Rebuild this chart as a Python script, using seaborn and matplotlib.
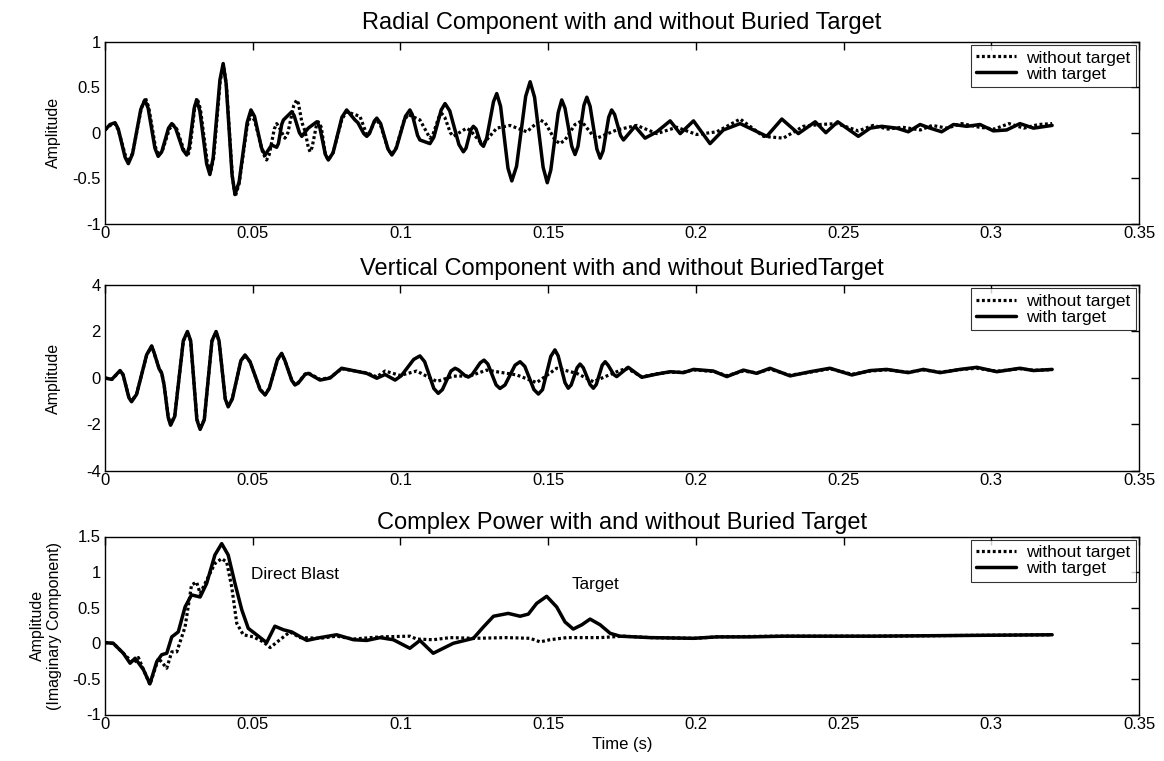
import numpy as np
import pandas as pd
import matplotlib
matplotlib.use("Agg")
import matplotlib.pyplot as plt
from matplotlib.ticker import FormatStrFormatter
import seaborn as sns

# ---------------- data ----------------
# Radial component
rad_t_with = [0, 0.0017, 0.0034, 0.0045, 0.0068, 0.0079, 0.0093, 0.0121, 0.0135, 0.0146,
              0.0169, 0.0180, 0.0192, 0.0215, 0.0226, 0.0239, 0.0264, 0.0277, 0.0285, 0.0302,
              0.0310, 0.0321, 0.0344, 0.0355, 0.0366, 0.0389, 0.0400, 0.0410, 0.0430, 0.0440,
              0.0454, 0.0481, 0.0494, 0.0506, 0.0530, 0.0542, 0.0564, 0.0581, 0.0587, 0.0598,
              0.0604, 0.0632, 0.0640, 0.0658, 0.0666, 0.0688, 0.0717, 0.0727, 0.0746, 0.0756,
              0.0772, 0.0802, 0.0818, 0.0846, 0.0856, 0.0876, 0.0886, 0.0895, 0.0912, 0.0920,
              0.0933, 0.0958, 0.0971, 0.0986, 0.1017, 0.1032, 0.1040, 0.1058, 0.1066, 0.1100,
              0.1113, 0.1138, 0.1151, 0.1167, 0.1198, 0.1213, 0.1222, 0.1238, 0.1247, 0.1256,
              0.1272, 0.1281, 0.1292, 0.1315, 0.1326, 0.1339, 0.1364, 0.1377, 0.1393, 0.1424,
              0.1439, 0.1454, 0.1483, 0.1497, 0.1509, 0.1534, 0.1546, 0.1557, 0.1580, 0.1591,
              0.1601, 0.1621, 0.1631, 0.1642, 0.1665, 0.1676, 0.1686, 0.1705, 0.1715, 0.1725,
              0.1745, 0.1755, 0.1794, 0.1828, 0.1868, 0.1913, 0.1947, 0.1992, 0.2048, 0.2093,
              0.2150, 0.2195, 0.2240, 0.2291, 0.2347, 0.2404, 0.2440, 0.2480, 0.2550, 0.2590,
              0.2629, 0.2680, 0.2719, 0.2759, 0.2793, 0.2832, 0.2872, 0.2917, 0.2962, 0.3007,
              0.3052, 0.3097, 0.3143, 0.3206]
rad_v_with = [0.03, 0.09, 0.11, 0.04, -0.27, -0.34, -0.235, 0.255, 0.36, 0.27,
              -0.17, -0.26, -0.21, 0.05, 0.10, 0.05, -0.19, -0.245, -0.155, 0.27,
              0.36, 0.24, -0.34, -0.46, -0.28, 0.58, 0.76, 0.54, -0.46, -0.68,
              -0.54, 0.11, 0.25, 0.18, -0.17, -0.245, -0.135, -0.16, -0.12, 0.09,
              0.14, 0.23, 0.19, 0.00, -0.04, 0.05, 0.12, 0.06, -0.24, -0.30,
              -0.22, 0.17, 0.25, 0.14, 0.11, -0.01, -0.04, -0.01, 0.13, 0.16,
              0.10, -0.18, -0.245, -0.17, 0.18, 0.25, 0.20, -0.03, -0.08, -0.12,
              -0.05, 0.25, 0.32, 0.24, -0.13, -0.21, -0.17, 0.03, 0.07, 0.04,
              -0.12, -0.15, -0.06, 0.34, 0.43, 0.29, -0.39, -0.53, -0.37, 0.40,
              0.56, 0.39, -0.38, -0.55, -0.41, 0.22, 0.36, 0.27, -0.15, -0.24,
              -0.15, 0.30, 0.39, 0.29, -0.18, -0.28, -0.20, 0.17, 0.25, 0.20,
              -0.03, -0.08, 0.07, -0.06, 0.01, 0.13, -0.01, 0.13, -0.12, 0.03,
              0.10, 0.03, -0.04, 0.15, -0.01, 0.12, 0.00, 0.12, -0.04, 0.05,
              0.07, 0.05, 0.01, 0.09, 0.05, 0.01, 0.09, 0.07, 0.09, 0.02,
              0.03, 0.10, 0.05, 0.08]
rad_t_without = [0, 0.0017, 0.0034, 0.0045, 0.0069, 0.0080, 0.0094, 0.0123, 0.0137, 0.0148,
                 0.0171, 0.0182, 0.0194, 0.0218, 0.0230, 0.0243, 0.0268, 0.0280, 0.0288, 0.0304,
                 0.0312, 0.0323, 0.0346, 0.0357, 0.0368, 0.0390, 0.0401, 0.0411, 0.0431, 0.0441,
                 0.0454, 0.0481, 0.0494, 0.0507, 0.0534, 0.0547, 0.0556, 0.0573, 0.0581, 0.0588,
                 0.0602, 0.0609, 0.0619, 0.0639, 0.0649, 0.0655, 0.0666, 0.0671, 0.0677, 0.0688,
                 0.0694, 0.0701, 0.0715, 0.0722, 0.0732, 0.0746, 0.0756, 0.0772, 0.0802, 0.0818,
                 0.0863, 0.0886, 0.0897, 0.0912, 0.0920, 0.0933, 0.0958, 0.0971, 0.0985, 0.1012,
                 0.1026, 0.1066, 0.1100, 0.1110, 0.1130, 0.1140, 0.1150, 0.1169, 0.1179, 0.1224,
                 0.1238, 0.1267, 0.1281, 0.1326, 0.1371, 0.1428, 0.1473, 0.1490, 0.1523, 0.1540,
                 0.1557, 0.1591, 0.1608, 0.1622, 0.1651, 0.1665, 0.1732, 0.1800, 0.1868, 0.1935,
                 0.2003, 0.2071, 0.2150, 0.2229, 0.2296, 0.2364, 0.2420, 0.2477, 0.2550, 0.2600,
                 0.2650, 0.2700, 0.2760, 0.2800, 0.2850, 0.2900, 0.2960, 0.3010, 0.3060, 0.3110,
                 0.3160, 0.3206]
rad_v_without = [0.03, 0.08, 0.10, 0.03, -0.25, -0.32, -0.22, 0.27, 0.38, 0.28,
                 -0.16, -0.25, -0.20, 0.04, 0.09, 0.04, -0.20, -0.26, -0.16, 0.28,
                 0.38, 0.26, -0.32, -0.44, -0.27, 0.57, 0.74, 0.52, -0.48, -0.70,
                 -0.56, 0.07, 0.20, 0.13, -0.22, -0.30, -0.24, 0.04, 0.10, 0.07,
                 -0.02, -0.06, 0.00, 0.30, 0.36, 0.32, 0.12, 0.07, 0.02, -0.16,
                 -0.21, -0.16, 0.07, 0.12, 0.06, -0.24, -0.30, -0.22, 0.15, 0.23,
                 0.18, -0.02, 0.01, 0.12, 0.14, 0.08, -0.18, -0.24, -0.17, 0.13,
                 0.20, 0.14, -0.06, -0.02, 0.17, 0.21, 0.17, 0.00, -0.04, 0.05,
                 0.02, -0.09, -0.12, 0.05, 0.08, 0.01, 0.14, 0.11, -0.08, -0.12,
                 -0.08, 0.09, 0.12, 0.09, -0.03, -0.06, 0.03, 0.08, -0.01, 0.06,
                 -0.02, 0.01, 0.15, -0.04, -0.06, 0.07, 0.09, 0.10, 0.02, 0.08,
                 0.04, 0.06, 0.03, 0.08, 0.05, 0.10, 0.06, 0.04, 0.10, 0.05,
                 0.09, 0.10]

# Vertical component
ver_t_with = [0, 0.0023, 0.0051, 0.0061, 0.0081, 0.0090, 0.0107, 0.0141, 0.0158, 0.0166,
              0.0183, 0.0192, 0.0200, 0.0214, 0.0222, 0.0236, 0.0265, 0.0279, 0.0290, 0.0311,
              0.0322, 0.0336, 0.0362, 0.0376, 0.0386, 0.0407, 0.0417, 0.0431, 0.0460, 0.0474,
              0.0491, 0.0525, 0.0542, 0.0556, 0.0584, 0.0598, 0.0609, 0.0632, 0.0643, 0.0654,
              0.0677, 0.0688, 0.0728, 0.0762, 0.0801, 0.0886, 0.0920, 0.0948, 0.0982, 0.1003,
              0.1045, 0.1066, 0.1082, 0.1113, 0.1128, 0.1142, 0.1171, 0.1185, 0.1196, 0.1219,
              0.1230, 0.1243, 0.1270, 0.1283, 0.1296, 0.1324, 0.1337, 0.1354, 0.1388, 0.1405,
              0.1421, 0.1452, 0.1467, 0.1481, 0.1509, 0.1523, 0.1534, 0.1557, 0.1568, 0.1578,
              0.1598, 0.1608, 0.1619, 0.1642, 0.1653, 0.1663, 0.1683, 0.1693, 0.1703, 0.1722,
              0.1732, 0.1771, 0.1817, 0.1868, 0.1913, 0.1958, 0.1992, 0.2059, 0.2105, 0.2161,
              0.2206, 0.2251, 0.2319, 0.2387, 0.2454, 0.2528, 0.2590, 0.2646, 0.2719, 0.2770,
              0.2827, 0.2894, 0.2951, 0.3019, 0.3097, 0.3143, 0.3206]
ver_v_with = [0.0, -0.06, 0.32, 0.15, -0.85, -1.02, -0.70, 1.00, 1.38, 1.10,
              0.40, 0.20, -0.30, -1.70, -2.03, -1.65, 1.60, 2.0, 1.60, -1.80,
              -2.21, -1.80, 1.60, 2.0, 1.60, -0.90, -1.24, -0.90, 0.75, 0.99,
              0.70, -0.50, -0.73, -0.45, 0.80, 1.06, 0.75, -0.10, -0.30, -0.22,
              0.15, 0.20, -0.09, 0.0, 0.42, 0.20, -0.01, 0.15, -0.09, 0.10,
              0.80, 0.95, 0.70, -0.45, -0.66, -0.50, 0.30, 0.42, 0.35, 0.10,
              0.04, 0.15, 0.65, 0.77, 0.60, -0.30, -0.45, -0.30, 0.55, 0.70,
              0.50, -0.50, -0.69, -0.50, 0.93, 1.21, 0.95, -0.20, -0.44, -0.30,
              0.44, 0.60, 0.44, -0.28, -0.44, -0.28, 0.55, 0.70, 0.55, 0.15,
              0.06, 0.46, 0.03, 0.17, 0.27, 0.23, 0.37, 0.30, 0.06, 0.34,
              0.20, 0.42, 0.09, 0.27, 0.42, 0.13, 0.32, 0.37, 0.23, 0.37,
              0.23, 0.37, 0.46, 0.27, 0.42, 0.32, 0.37]
ver_t_without = [0, 0.0023, 0.0051, 0.0061, 0.0081, 0.0090, 0.0107, 0.0141, 0.0158, 0.0166,
                 0.0183, 0.0192, 0.0200, 0.0214, 0.0222, 0.0236, 0.0265, 0.0279, 0.0290, 0.0311,
                 0.0322, 0.0336, 0.0362, 0.0376, 0.0386, 0.0407, 0.0417, 0.0431, 0.0460, 0.0474,
                 0.0491, 0.0525, 0.0542, 0.0556, 0.0584, 0.0598, 0.0609, 0.0632, 0.0643, 0.0654,
                 0.0677, 0.0688, 0.0728, 0.0762, 0.0801, 0.0886, 0.0920, 0.0948, 0.0999, 0.1055,
                 0.1123, 0.1179, 0.1236, 0.1292, 0.1394, 0.1461, 0.1529, 0.1597, 0.1653, 0.1732,
                 0.1766, 0.1817, 0.1868, 0.1913, 0.1958, 0.1992, 0.2059, 0.2105, 0.2161, 0.2206,
                 0.2251, 0.2319, 0.2387, 0.2454, 0.2528, 0.2590, 0.2646, 0.2719, 0.2770, 0.2827,
                 0.2894, 0.2951, 0.3019, 0.3097, 0.3143, 0.3206]
ver_v_without = [0.0, -0.06, 0.30, 0.14, -0.83, -1.00, -0.68, 0.98, 1.36, 1.08,
                 0.42, 0.22, -0.28, -1.67, -2.00, -1.62, 1.58, 1.98, 1.58, -1.77,
                 -2.18, -1.78, 1.58, 1.98, 1.58, -0.88, -1.22, -0.88, 0.73, 0.97,
                 0.69, -0.49, -0.72, -0.44, 0.78, 1.04, 0.74, -0.08, -0.28, -0.20,
                 0.17, 0.22, -0.06, 0.02, 0.40, 0.22, 0.05, 0.30, 0.11, 0.30,
                 -0.15, 0.08, 0.09, 0.34, 0.13, -0.20, 0.42, 0.20, -0.16, 0.27,
                 0.42, 0.05, 0.18, 0.25, 0.25, 0.35, 0.28, 0.10, 0.30, 0.22,
                 0.38, 0.12, 0.25, 0.40, 0.16, 0.30, 0.35, 0.25, 0.35, 0.25,
                 0.36, 0.42, 0.29, 0.40, 0.33, 0.36]

# Complex power (imaginary component)
pow_t_with = [0, 0.0028, 0.0062, 0.0085, 0.0102, 0.0130, 0.0152, 0.0175, 0.0192, 0.0209,
              0.0226, 0.0248, 0.0271, 0.0293, 0.0322, 0.0344, 0.0372, 0.0395, 0.0417, 0.0440,
              0.0463, 0.0485, 0.0513, 0.0547, 0.0575, 0.0604, 0.0632, 0.0683, 0.0728, 0.0784,
              0.0841, 0.0886, 0.0931, 0.0976, 0.1032, 0.1066, 0.1111, 0.1179, 0.1247, 0.1281,
              0.1315, 0.1365, 0.1405, 0.1433, 0.1461, 0.1495, 0.1529, 0.1557, 0.1585, 0.1614,
              0.1642, 0.1676, 0.1710, 0.1743, 0.1845, 0.1992, 0.2071, 0.2184, 0.2296, 0.2600,
              0.2900, 0.3206]
pow_v_with = [0.01, 0.0, -0.14, -0.28, -0.21, -0.37, -0.57, -0.26, -0.16, -0.14,
              0.09, 0.16, 0.51, 0.68, 0.65, 0.84, 1.24, 1.40, 1.24, 0.84,
              0.47, 0.21, 0.12, 0.01, 0.24, 0.19, 0.16, 0.04, 0.08, 0.12,
              0.05, 0.04, 0.08, 0.05, -0.07, 0.04, -0.14, 0.0, 0.07, 0.23,
              0.38, 0.42, 0.38, 0.41, 0.56, 0.66, 0.51, 0.30, 0.20, 0.26,
              0.34, 0.26, 0.14, 0.10, 0.08, 0.07, 0.09, 0.09, 0.10, 0.10,
              0.11, 0.12]
pow_t_without = [0, 0.0028, 0.0062, 0.0096, 0.0113, 0.0152, 0.0181, 0.0209, 0.0226, 0.0243,
                 0.0271, 0.0293, 0.0310, 0.0322, 0.0355, 0.0372, 0.0395, 0.0412, 0.0429, 0.0446,
                 0.0468, 0.0502, 0.0536, 0.0559, 0.0592, 0.0626, 0.0660, 0.0728, 0.0784, 0.0841,
                 0.0931, 0.1032, 0.1055, 0.1111, 0.1168, 0.1253, 0.1360, 0.1439, 0.1473, 0.1506,
                 0.1563, 0.1676, 0.1755, 0.1845, 0.1997, 0.2071, 0.2274, 0.2600, 0.2900, 0.3206]
pow_v_without = [0.01, 0.0, -0.14, -0.28, -0.20, -0.58, -0.21, -0.35, -0.12, -0.12,
                 0.23, 0.82, 0.86, 0.70, 0.98, 1.12, 1.19, 1.14, 0.79, 0.28,
                 0.12, 0.09, 0.02, -0.06, 0.05, 0.16, 0.08, 0.07, 0.10, 0.06,
                 0.09, 0.10, 0.06, 0.05, 0.08, 0.07, 0.08, 0.07, 0.02, 0.05,
                 0.08, 0.08, 0.10, 0.08, 0.07, 0.09, 0.10, 0.10, 0.11, 0.12]

series_labels = ["without target", "with target"]
titles = ["Radial Component with and without Buried Target",
          "Vertical Component with and without BuriedTarget",
          "Complex Power with and without Buried Target"]
ylabels = ["Amplitude", "Amplitude", "Amplitude\n(Imaginary Component)"]
x_ticks = [0, 0.05, 0.1, 0.15, 0.2, 0.25, 0.3, 0.35]
y_ticks = [[-1, -0.5, 0, 0.5, 1], [-4, -2, 0, 2, 4], [-1, -0.5, 0, 0.5, 1, 1.5]]
y_lims = [(-1, 1), (-4, 4), (-1, 1.5)]
annotations = [("Direct Blast", 0.0495, 0.96), ("Target", 0.158, 0.82)]

# ---------------- style ----------------
sns.set_style("white")
plt.rcParams["font.family"] = ["Liberation Sans", "DejaVu Sans"]
plt.rcParams["text.color"] = "black"
plt.rcParams["axes.labelcolor"] = "black"
plt.rcParams["xtick.color"] = "black"
plt.rcParams["ytick.color"] = "black"

W, H = 1164, 761
fig = plt.figure(figsize=(W / 100, H / 100), dpi=100)

# axes boxes in pixels (left, top, right, bottom)
boxes = [(105, 41.7, 1139, 223.7), (105, 285, 1139, 471), (105, 536.5, 1139, 714.5)]
title_pads = [9.5, 7.5, 5.5]
ylabel_x = [-0.043, -0.043, -0.042]
axes = []
for (l, t, r, b) in boxes:
    axes.append(fig.add_axes([l / W, 1 - b / H, (r - l) / W, (b - t) / H]))

data = [
    (rad_t_without, rad_v_without, rad_t_with, rad_v_with),
    (ver_t_without, ver_v_without, ver_t_with, ver_v_with),
    (pow_t_without, pow_v_without, pow_t_with, pow_v_with),
]

for i, ax in enumerate(axes):
    t0, v0, t1, v1 = data[i]
    df0 = pd.DataFrame({"t": t0, "v": v0})
    df1 = pd.DataFrame({"t": t1, "v": v1})
    sns.lineplot(data=df0, x="t", y="v", ax=ax, color="black", linestyle=(0, (0.9, 0.8)),
                 linewidth=2.3, label=series_labels[0], estimator=None, sort=False)
    sns.lineplot(data=df1, x="t", y="v", ax=ax, color="black", linestyle="-",
                 linewidth=2.5, label=series_labels[1], estimator=None, sort=False)
    for ln in ax.get_lines():
        ln.set_solid_joinstyle("round")
        ln.set_dash_joinstyle("round")
    ax.set_xlim(0, 0.35)
    ax.set_ylim(*y_lims[i])
    ax.set_xticks(x_ticks)
    ax.set_yticks(y_ticks[i])
    ax.xaxis.set_major_formatter(FormatStrFormatter("%g"))
    ax.yaxis.set_major_formatter(FormatStrFormatter("%g"))
    ax.tick_params(direction="in", length=6, width=1, top=True, right=True,
                   labelsize=12, colors="black", pad=3)
    ax.tick_params(axis="x", pad=1.5)
    for s in ax.spines.values():
        s.set_visible(True)
        s.set_color("black")
        s.set_linewidth(1.0)
    ax.set_title(titles[i], fontsize=17, pad=title_pads[i], color="black")
    ax.set_xlabel("")
    ax.set_ylabel(ylabels[i], fontsize=11.5, linespacing=1.15, color="black")
    ax.yaxis.set_label_coords(ylabel_x[i], 0.5)
    leg = ax.legend(loc="upper right", fontsize=12.5, frameon=True, fancybox=False,
                    edgecolor="black", borderaxespad=0.2, labelspacing=0.05,
                    handlelength=2.3, handletextpad=0.6, borderpad=0.3)
    leg.get_frame().set_linewidth(0.8)
    for tx in leg.get_texts():
        tx.set_color("black")
    ax.grid(False)

for txt, tx, ty in annotations:
    axes[2].text(tx, ty, txt, fontsize=12.3, ha="left", va="center", color="black")

axes[2].set_xlabel("Time (s)", fontsize=12, labelpad=4, color="black")

fig.savefig("out.png", dpi=100)
